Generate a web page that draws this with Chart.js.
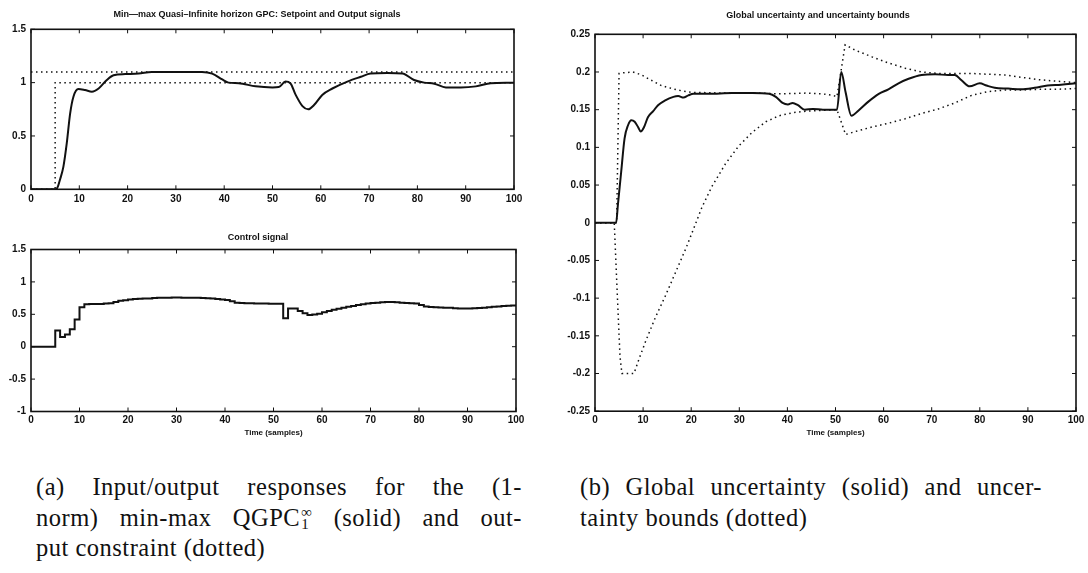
<!DOCTYPE html>
<html>
<head>
<meta charset="utf-8">
<script src="https://cdn.jsdelivr.net/npm/chart.js@4.4.1/dist/chart.umd.min.js"></script>
<style>
  body { margin: 0; background: #fff; }
  #page { position: relative; width: 1088px; height: 573px; overflow: hidden; background: #fff; }
  canvas { position: absolute; }
  .cap { position: absolute; font-family: "Liberation Serif", "Times New Roman", serif; font-size: 24.5px; letter-spacing: 0.5px; color: #111; }
  .cap div { height: 30.5px; line-height: 30.5px; white-space: nowrap; }
  .cap .j { text-align: justify; text-align-last: justify; white-space: normal; }
  .ss { display: inline-flex; flex-direction: column; font-size: 15px; line-height: 12px; vertical-align: 9px; margin-left: 1px; }
</style>
</head>
<body>
<div id="page">
  <canvas id="outChart" width="540" height="215" style="left:0;top:0"></canvas>
  <canvas id="ctrlChart" width="540" height="225" style="left:0;top:220px"></canvas>
  <canvas id="uncChart" width="528" height="445" style="left:560px;top:0"></canvas>

  <div class="cap" style="left:36px;top:472px;width:486px">
    <div class="j">(a) Input/output responses for the (1-</div>
    <div class="j">norm) min-max QGPC<span class="ss"><span>∞</span><span>1</span></span> (solid) and out-</div>
    <div>put constraint (dotted)</div>
  </div>
  <div class="cap" style="left:580px;top:472px;width:462px">
    <div class="j">(b) Global uncertainty (solid) and uncer-</div>
    <div>tainty bounds (dotted)</div>
  </div>
</div>

<script>
// ---- data ----

// top-left: output (solid) and setpoint / output constraint (dotted)
const outT = [0, 5.2, 5.6, 6, 6.7, 7.4, 8.1, 8.8, 9.8, 11.2, 12.6, 14, 15.7, 17.1, 19.5, 22.3, 25, 30, 35.4, 37.5,
  39.6, 40.9, 43, 46.5, 50, 51.3, 52.7, 53.7, 54.8, 56.2, 57.4, 58.6, 60.3, 62.4, 65.5, 68.3, 70.3, 73.8, 76.9,
  79.3, 81.4, 83.5, 85.9, 89, 92.1, 95.2, 98.3, 100];
const outY = [0, 0, 0.03, 0.09, 0.21, 0.43, 0.71, 0.87, 0.94, 0.93, 0.915, 0.945, 1.025, 1.07, 1.08, 1.085, 1.1, 1.1, 1.1, 1.085,
  1.03, 1.0, 0.995, 0.965, 0.955, 0.958, 1.01, 0.995, 0.885, 0.78, 0.75, 0.79, 0.885, 0.945, 1.01, 1.055, 1.085, 1.09, 1.085,
  1.025, 1.0, 0.99, 0.955, 0.955, 0.965, 0.995, 1.0, 1.0];
const setT = [0, 5, 5, 100];
const setY = [0, 0, 1, 1];
const limT = [0, 100];
const limY = [1.1, 1.1];

// bottom-left: control signal, one value per sample 0..100
const ctrlU = [
  0, 0, 0, 0, 0, 0.25, 0.15, 0.19, 0.27, 0.42,
  0.61, 0.655, 0.66, 0.66, 0.66, 0.665, 0.67, 0.69, 0.71, 0.715,
  0.73, 0.735, 0.74, 0.745, 0.745, 0.75, 0.755, 0.755, 0.755, 0.758,
  0.758, 0.757, 0.756, 0.755, 0.754, 0.752, 0.748, 0.744, 0.737, 0.73,
  0.72, 0.7, 0.68, 0.675, 0.672, 0.67, 0.668, 0.665, 0.665, 0.664,
  0.664, 0.663, 0.44, 0.59, 0.59, 0.55, 0.515, 0.49, 0.495, 0.51,
  0.53, 0.55, 0.57, 0.585, 0.6, 0.615, 0.63, 0.645, 0.655, 0.665,
  0.675, 0.68, 0.685, 0.69, 0.688, 0.685, 0.68, 0.675, 0.67, 0.665,
  0.645, 0.62, 0.613, 0.61, 0.606, 0.603, 0.6, 0.595, 0.59, 0.59,
  0.59, 0.593, 0.597, 0.603, 0.61, 0.615, 0.62, 0.628, 0.633, 0.637,
  0.64];

// right: global uncertainty (solid) and its bounds (dotted)
const uncT = [0, 4.4, 4.75, 5.45, 6.15, 6.85, 7.55, 8.25, 8.95, 9.5, 10.2, 11, 12.1, 13.1, 14.5, 16.3, 17.3, 18.4, 19.4,
  20.5, 23.6, 28.5, 32.7, 36.2, 37.6, 39, 40.1, 41.1, 42.2, 43.6, 45.3, 47.4, 50.3, 51.2, 52.1, 53.3, 54.8, 56.9,
  59, 61, 63.1, 65.2, 67.9, 70.7, 73.4, 74.8, 76.2, 77.9, 80, 81.4, 83.1, 85.9, 88.6, 91.4, 94.1, 96.9, 100];
const uncY = [0, 0, 0.023, 0.068, 0.112, 0.129, 0.136, 0.134, 0.127, 0.121, 0.127, 0.14, 0.148, 0.156, 0.162, 0.167, 0.168, 0.166, 0.169,
  0.171, 0.171, 0.172, 0.172, 0.171, 0.167, 0.159, 0.157, 0.159, 0.156, 0.15, 0.151, 0.15, 0.15, 0.2, 0.173, 0.142, 0.149, 0.161,
  0.171, 0.177, 0.185, 0.191, 0.196, 0.197, 0.196, 0.196, 0.189, 0.181, 0.185, 0.182, 0.179, 0.178, 0.177, 0.179, 0.182, 0.183, 0.185];
const upT = [0, 4.5, 5, 6, 7.9, 9.7, 11.7, 13.8, 16, 18, 20.1, 27, 34, 38.3, 43.9, 47.2, 49.5, 50.3, 52,
  54.1, 57.6, 61, 64.5, 67.9, 71.4, 78.3, 85.2, 88.6, 92, 95.5, 100];
const upY = [0, 0, 0.198, 0.199, 0.2, 0.196, 0.189, 0.182, 0.178, 0.175, 0.173, 0.172, 0.172, 0.171, 0.172, 0.171, 0.169, 0.167, 0.236,
  0.229, 0.22, 0.212, 0.205, 0.2, 0.198, 0.198, 0.196, 0.193, 0.19, 0.188, 0.186];
const loT = [0, 4, 4.6, 5.2, 5.6, 8.1, 9.2, 10.6, 12.6, 14.7, 16.8, 18.9, 20.5, 22.2, 24.3, 27.1, 29.9, 32.7, 35.5,
  38.3, 41.1, 43.9, 46.7, 50.3, 52.1, 54.1, 57.6, 61, 64.5, 67.9, 71.4, 74.8, 78.3, 81.7, 85.2, 88.6, 92, 95.5, 100];
const loY = [0, 0, -0.09, -0.178, -0.2, -0.2, -0.18, -0.156, -0.125, -0.096, -0.065, -0.034, -0.008, 0.02, 0.048, 0.078, 0.102, 0.12, 0.134,
  0.142, 0.146, 0.148, 0.149, 0.15, 0.117, 0.121, 0.127, 0.132, 0.138, 0.145, 0.151, 0.159, 0.169, 0.174, 0.176, 0.176, 0.177, 0.177, 0.178];

// ---- drawing ----
const ink = '#111';
const sans = 'Liberation Sans, Arial, sans-serif';
const tickFont = { family: sans, size: 10, weight: 'bold' };

function xy(xs, ys) { return xs.map((x, i) => ({ x: x, y: ys[i] })); }

// matlab style frame: box with inward tick marks on all four sides
const boxTicks = {
  id: 'boxTicks',
  afterDatasetsDraw(chart) {
    const ctx = chart.ctx, a = chart.chartArea, xs = chart.scales.x, ys = chart.scales.y;
    ctx.save();
    ctx.strokeStyle = ink;
    ctx.lineWidth = 1.6;
    ctx.strokeRect(a.left, a.top, a.right - a.left, a.bottom - a.top);
    ctx.lineWidth = 1;
    ctx.beginPath();
    xs.ticks.forEach(t => {
      const p = xs.getPixelForValue(t.value);
      ctx.moveTo(p, a.bottom); ctx.lineTo(p, a.bottom - 4);
      ctx.moveTo(p, a.top); ctx.lineTo(p, a.top + 4);
    });
    ys.ticks.forEach(t => {
      const p = ys.getPixelForValue(t.value);
      ctx.moveTo(a.left, p); ctx.lineTo(a.left + 4, p);
      ctx.moveTo(a.right, p); ctx.lineTo(a.right - 4, p);
    });
    ctx.stroke();
    ctx.restore();
  }
};

function solid(data, stepped) {
  return { data: data, borderColor: ink, borderWidth: 2, pointRadius: 0, stepped: stepped || false,
    tension: stepped ? 0 : 0.3, cubicInterpolationMode: 'monotone' };
}
function dotted(data) {
  return { data: data, borderColor: ink, borderWidth: 1.5, borderDash: [1.5, 3.5], pointRadius: 0, tension: 0 };
}

function makeChart(id, o) {
  return new Chart(document.getElementById(id), {
    type: 'line',
    data: { datasets: o.datasets },
    options: {
      responsive: false,
      animation: false,
      layout: { padding: { left: 0, right: o.padRight, top: 0, bottom: 0 } },
      plugins: {
        legend: { display: false },
        tooltip: { enabled: false },
        title: { display: true, text: o.title, color: ink, font: { family: sans, size: 9, weight: 'bold' },
          padding: { top: o.titleTop, bottom: o.titleBottom } }
      },
      scales: {
        x: {
          type: 'linear', min: 0, max: 100,
          border: { display: false },
          grid: { display: false, drawTicks: false },
          ticks: { stepSize: 10, color: ink, font: tickFont, padding: o.xPad, maxRotation: 0, autoSkip: false },
          title: { display: !!o.xTitle, text: o.xTitle || '', color: ink, font: { family: sans, size: 8, weight: 'bold' },
            padding: { top: 0, bottom: 7 } },
          afterFit: s => { s.height = o.xHeight; s.paddingLeft = 0; s.paddingRight = 0; }
        },
        y: {
          min: o.yMin, max: o.yMax,
          border: { display: false },
          grid: { display: false, drawTicks: false },
          ticks: { stepSize: o.yStep, color: ink, font: tickFont, padding: 5, autoSkip: false,
            callback: v => String(+v.toFixed(2)) },
          afterFit: s => { s.width = o.yWidth; }
        }
      }
    },
    plugins: [boxTicks]
  });
}

makeChart('outChart', {
  title: 'Min\u2014max Quasi\u2013Infinite horizon GPC: Setpoint and Output signals',
  titleTop: 9.5, titleBottom: 9,
  padRight: 26, yWidth: 31, xHeight: 25.7, xPad: 4,
  yMin: 0, yMax: 1.5, yStep: 0.5,
  datasets: [dotted(xy(limT, limY)), dotted(xy(setT, setY)), solid(xy(outT, outY))]
});

makeChart('ctrlChart', {
  title: 'Control signal',
  titleTop: 12.3, titleBottom: 6.4,
  padRight: 24, yWidth: 31, xHeight: 33.5, xPad: 2.5, xTitle: 'Time (samples)',
  yMin: -1, yMax: 1.5, yStep: 0.5,
  datasets: [solid(ctrlU.map((u, k) => ({ x: k, y: u })), 'before')]
});

makeChart('uncChart', {
  title: 'Global uncertainty and uncertainty bounds',
  titleTop: 10.6, titleBottom: 12.9,
  padRight: 12, yWidth: 35, xHeight: 33.8, xPad: 2.8, xTitle: 'Time (samples)',
  yMin: -0.25, yMax: 0.25, yStep: 0.05,
  datasets: [dotted(xy(upT, upY)), dotted(xy(loT, loY)), solid(xy(uncT, uncY))]
});
</script>
</body>
</html>
